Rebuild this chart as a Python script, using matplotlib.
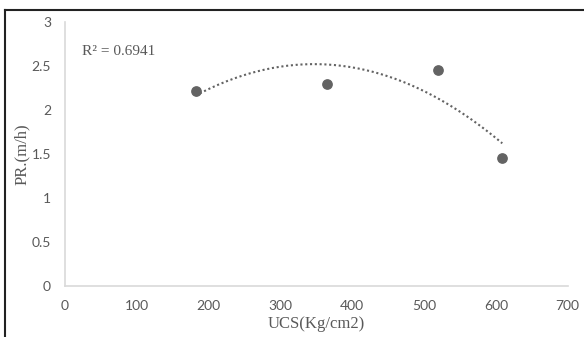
import matplotlib.pyplot as plt
import numpy as np
from matplotlib.lines import Line2D

ucs = [182, 365, 520, 609]
pr = [2.22, 2.30, 2.45, 1.46]
xticks = [0, 100, 200, 300, 400, 500, 600, 700]
yticks = [0, 0.5, 1, 1.5, 2, 2.5, 3]
ytick_labels = ['0', '0.5', '1', '1.5', '2', '2.5', '3']

fig = plt.figure(figsize=(5.84, 3.37), dpi=100)
ax = fig.add_axes([0.111, 0.151, 0.861, 0.784])

ax.scatter(ucs, pr, s=45, color='#636363', zorder=3)

# 2nd order poly trendline
coef = np.polyfit(ucs, pr, 2)
xs = np.linspace(min(ucs), max(ucs), 200)
ax.plot(xs, np.polyval(coef, xs), linestyle=(0, (1, 1.3)), color='#636363', lw=1.5)

ax.text(24, 2.66, 'R² = 0.6941', family='Liberation Serif', fontsize=11,
        color='#595959', va='center')

ax.set_xlim(0, 700)
ax.set_ylim(0, 3)
ax.set_xticks(xticks)
ax.set_yticks(yticks)
ax.set_yticklabels(ytick_labels)
ax.tick_params(length=0, labelsize=10, labelcolor='#595959')
ax.tick_params(axis='x', pad=10)
ax.tick_params(axis='y', pad=10)
for lbl in ax.get_xticklabels() + ax.get_yticklabels():
    lbl.set_family('Lato')
for s in ['top', 'right']:
    ax.spines[s].set_visible(False)
for s in ['left', 'bottom']:
    ax.spines[s].set_color('#d9d9d9')
    ax.spines[s].set_linewidth(1.2)

ax.set_xlabel('UCS(Kg/cm2)', family='Liberation Serif', fontsize=12, color='#595959', labelpad=3)
ax.set_ylabel('PR.(m/h)', family='Liberation Serif', fontsize=12, color='#595959')
ax.yaxis.set_label_coords(-0.07, 0.5)

# outer frame (top and left only)
fig.add_artist(Line2D([5/584, 1], [1 - 10/337, 1 - 10/337], color='#222222', lw=1.5, transform=fig.transFigure))
fig.add_artist(Line2D([5/584, 5/584], [0, 1 - 10/337], color='#222222', lw=1.5, transform=fig.transFigure))

fig.savefig('out.png', dpi=100)
